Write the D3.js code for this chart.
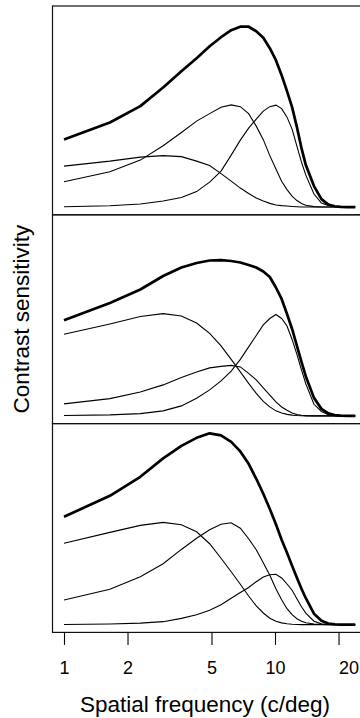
<!DOCTYPE html>
<html>
<head>
<meta charset="utf-8">
<script src="https://cdn.jsdelivr.net/npm/d3@7"></script>
<style>
  body { margin: 0; background: #fff; }
  text { font-family: "Liberation Sans", Arial, Helvetica, sans-serif; fill: #000; }
</style>
</head>
<body>
<svg id="mysvg" width="360" height="718"></svg>
<script>
// spatial frequencies (c/deg) where the curves were sampled
const freq = [1, 1.65, 2.3, 2.95, 3.6, 4.25, 4.9, 5.55, 6.2, 6.85, 7.5, 8.15, 8.8, 9.45,
  10.1, 10.75, 11.4, 12.05, 12.7, 13.35, 14, 15.3, 16.6, 17.9, 19.2, 20.5, 22, 24];
const tickVals = [1, 2, 5, 10, 20];

// panel 1
const p1Sum  = [0.677, 0.847, 1.01, 1.197, 1.36, 1.49, 1.61, 1.70, 1.77, 1.805, 1.805, 1.76, 1.695, 1.59,
  1.47, 1.32, 1.16, 1.00, 0.80, 0.59, 0.42, 0.21, 0.08, 0.025, 0.008, 0.002, 0, 0];
const p1Low  = [0.41, 0.46, 0.50, 0.515, 0.505, 0.46, 0.415, 0.335, 0.26, 0.19, 0.135, 0.09, 0.06, 0.037,
  0.02, 0.014, 0.01, 0.006, 0.003, 0.001, 0, 0, 0, 0, 0, 0, 0, 0];
const p1Mid  = [0.253, 0.353, 0.47, 0.613, 0.746, 0.86, 0.935, 1.0, 1.023, 1.005, 0.935, 0.81, 0.675, 0.515,
  0.38, 0.258, 0.175, 0.11, 0.065, 0.035, 0.018, 0.004, 0.001, 0, 0, 0, 0, 0];
const p1High = [0.003, 0.013, 0.03, 0.06, 0.095, 0.155, 0.25, 0.36, 0.52, 0.67, 0.79, 0.88, 0.96, 1.005,
  1.02, 0.985, 0.90, 0.78, 0.61, 0.45, 0.32, 0.13, 0.04, 0.015, 0.005, 0, 0, 0];

// panel 2
const p2Sum  = [0.957, 1.13, 1.265, 1.40, 1.485, 1.53, 1.555, 1.558, 1.55, 1.535, 1.51, 1.485, 1.445, 1.39,
  1.285, 1.17, 1.02, 0.87, 0.70, 0.54, 0.395, 0.18, 0.07, 0.025, 0.008, 0.002, 0, 0];
const p2Low  = [0.817, 0.92, 0.995, 1.023, 1.0, 0.93, 0.825, 0.70, 0.565, 0.44, 0.325, 0.225, 0.145, 0.09,
  0.05, 0.028, 0.015, 0.007, 0.003, 0.001, 0, 0, 0, 0, 0, 0, 0, 0];
const p2Mid  = [0.12, 0.173, 0.238, 0.31, 0.385, 0.44, 0.48, 0.495, 0.505, 0.49, 0.425, 0.36, 0.28, 0.207,
  0.139, 0.089, 0.057, 0.029, 0.014, 0.006, 0.002, 0, 0, 0, 0, 0, 0, 0];
const p2High = [0.003, 0.01, 0.022, 0.05, 0.10, 0.177, 0.26, 0.35, 0.447, 0.565, 0.69, 0.805, 0.91, 0.974,
  1.015, 0.975, 0.90, 0.765, 0.616, 0.46, 0.32, 0.116, 0.044, 0.012, 0.003, 0, 0, 0];

// panel 3
const p3Sum  = [1.08, 1.29, 1.48, 1.664, 1.79, 1.87, 1.915, 1.895, 1.83, 1.734, 1.61, 1.46, 1.31, 1.157,
  1.005, 0.85, 0.72, 0.59, 0.47, 0.36, 0.265, 0.11, 0.04, 0.012, 0.004, 0.001, 0, 0];
const p3Low  = [0.814, 0.924, 0.994, 1.024, 1.0, 0.93, 0.81, 0.665, 0.53, 0.405, 0.287, 0.188, 0.117, 0.065,
  0.035, 0.018, 0.009, 0.004, 0.002, 0, 0, 0, 0, 0, 0, 0, 0, 0];
const p3Mid  = [0.247, 0.354, 0.48, 0.61, 0.753, 0.865, 0.95, 1.005, 1.02, 0.965, 0.86, 0.75, 0.62, 0.495,
  0.36, 0.25, 0.16, 0.10, 0.06, 0.035, 0.02, 0.006, 0.002, 0, 0, 0, 0, 0];
const p3High = [0.001, 0.006, 0.015, 0.03, 0.063, 0.10, 0.145, 0.20, 0.264, 0.322, 0.372, 0.43, 0.477, 0.50,
  0.504, 0.467, 0.407, 0.345, 0.26, 0.18, 0.115, 0.035, 0.008, 0.002, 0, 0, 0, 0];

const panels = [
  { sum: p1Sum, channels: [p1Low, p1Mid, p1High] },
  { sum: p2Sum, channels: [p2Low, p2Mid, p2High] },
  { sum: p3Sum, channels: [p3Low, p3Mid, p3High] }
];

const svg = d3.select("#mysvg");
const plotLeft = 52.5, plotRight = 362, plotTop = 6, panelH = 208.8;
const pad = panelH * 0.04 / 1.08;   // R style axis expansion
const yTop = 1.935;

const x = d3.scaleLog().domain([1, 10]).range([64, 275]);

panels.forEach(function(p, i) {
  const y0 = plotTop + i * panelH;
  const y = d3.scaleLinear().domain([0, yTop]).range([y0 + panelH - pad, y0 + pad]);
  const line = d3.line()
    .x(function(d, j) { return x(freq[j]); })
    .y(function(d) { return y(d); });

  const g = svg.append("g");
  g.selectAll("path.channel")
    .data(p.channels)
    .enter().append("path")
    .attr("class", "channel")
    .attr("d", line)
    .attr("fill", "none")
    .attr("stroke", "#000")
    .attr("stroke-width", 1.1);

  g.append("path")
    .attr("d", line(p.sum))
    .attr("fill", "none")
    .attr("stroke", "#000")
    .attr("stroke-width", 2.7)
    .attr("stroke-linejoin", "round");

  g.append("rect")
    .attr("x", plotLeft)
    .attr("y", y0)
    .attr("width", plotRight - plotLeft)
    .attr("height", panelH)
    .attr("fill", "none")
    .attr("stroke", "#111")
    .attr("stroke-width", 1.2);
});

// x axis under the last panel
const plotBottom = plotTop + 3 * panelH;
const xAxis = d3.axisBottom(x)
  .tickValues(tickVals)
  .tickFormat(d3.format("d"))
  .tickSize(12.5)
  .tickPadding(16);

const ax = svg.append("g")
  .attr("transform", "translate(0," + plotBottom + ")")
  .call(xAxis);
ax.select(".domain").remove();
ax.selectAll(".tick line").attr("stroke", "#000").attr("stroke-width", 1.1);
ax.selectAll(".tick text")
  .attr("font-size", 18)
  .attr("font-family", "Liberation Sans, Arial, sans-serif")
  .attr("fill", "#000")
  .attr("text-anchor", function(d) { return d === 20 ? "start" : "middle"; });

svg.append("text")
  .attr("x", 205)
  .attr("y", 711.5)
  .attr("text-anchor", "middle")
  .attr("font-size", 22.5)
  .text("Spatial frequency (c/deg)");

svg.append("text")
  .attr("transform", "translate(29," + (plotTop + 1.5 * panelH) + ") rotate(-90)")
  .attr("text-anchor", "middle")
  .attr("font-size", 22.5)
  .text("Contrast sensitivity");
</script>
</body>
</html>
